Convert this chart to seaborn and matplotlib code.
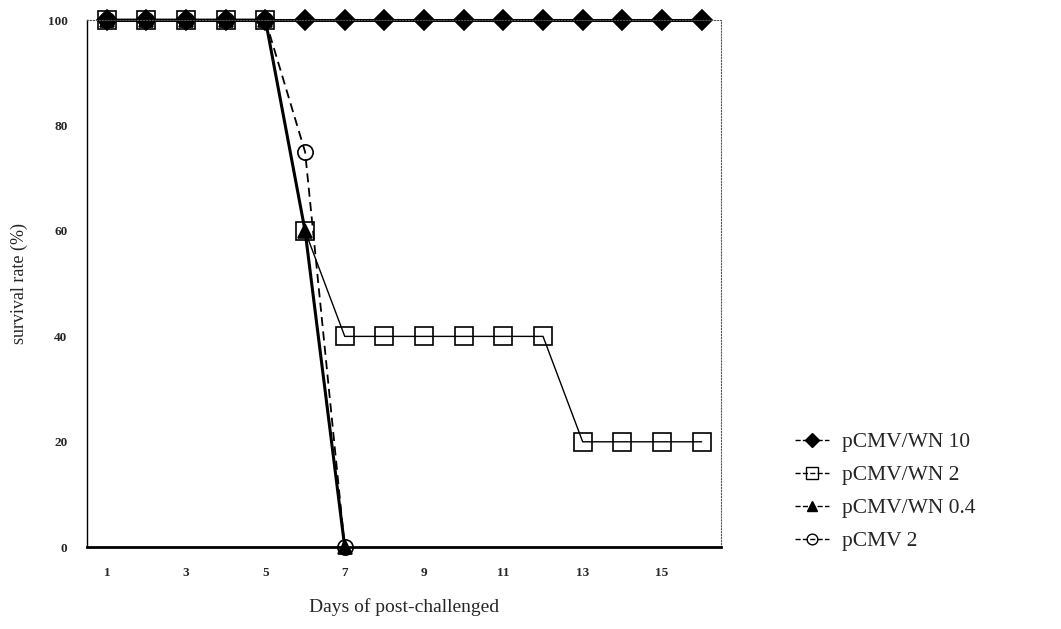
import pandas as pd
import seaborn as sns
import matplotlib.pyplot as plt

# Data
days = list(range(1, 17))
wn10 = [100] * 16
wn2 = [100, 100, 100, 100, 100, 60, 40, 40, 40, 40, 40, 40, 20, 20, 20, 20]
wn04 = [100, 100, 100, 100, 100, 60, 0]
cmv2 = [100, 100, 100, 100, 100, 75, 0]

series_names = ['pCMV/WN 10', 'pCMV/WN 2', 'pCMV/WN 0.4', 'pCMV 2']
series_vals = [wn10, wn2, wn04, cmv2]

rows = []
for name, vals in zip(series_names, series_vals):
    for d, v in zip(days, vals):
        rows.append({'day': d, 'rate': v, 'group': name})
df = pd.DataFrame(rows)

sns.set_style('white')
plt.rcParams['font.family'] = ['Liberation Serif', 'DejaVu Serif']

fig = plt.figure(figsize=(10.61, 6.29), dpi=100)
ax = fig.add_axes([0.082, 0.130, 0.598, 0.838])

# style for each group
styles = {
    'pCMV/WN 10': dict(marker='D', markersize=10, lw=2.2, ls='-', mfc='black', mec='black'),
    'pCMV/WN 2': dict(marker='s', markersize=13, lw=1.0, ls='-', mfc='none', mec='black'),
    'pCMV/WN 0.4': dict(marker='^', markersize=10, lw=2.2, ls='-', mfc='black', mec='black'),
    'pCMV 2': dict(marker='o', markersize=11, lw=1.3, ls=(0, (5, 3)), mfc='none', mec='black'),
}
draw_order = ['pCMV/WN 2', 'pCMV 2', 'pCMV/WN 0.4', 'pCMV/WN 10']
for name in draw_order:
    st = styles[name]
    sns.lineplot(data=df[df['group'] == name], x='day', y='rate', ax=ax,
                 color='black', linewidth=st['lw'], linestyle=st['ls'],
                 marker=st['marker'], markersize=st['markersize'],
                 markerfacecolor=st['mfc'], markeredgecolor=st['mec'],
                 markeredgewidth=1.2, label=name, legend=False, clip_on=False)

ax.set_xlim(0.5, 16.5)
ax.set_ylim(0, 100)
ax.set_xticks([1, 3, 5, 7, 9, 11, 13, 15])
ax.set_yticks([0, 20, 40, 60, 80, 100])
ax.tick_params(axis='both', length=0, labelsize=9.5, pad=14)
for lab in ax.get_xticklabels() + ax.get_yticklabels():
    lab.set_fontweight('bold')

ax.set_xlabel('Days of post-challenged', fontsize=14, labelpad=14)
ax.set_ylabel('survival rate (%)', fontsize=13, labelpad=14)

for s in ['top', 'right']:
    ax.spines[s].set_linestyle(':')
    ax.spines[s].set_linewidth(0.8)
    ax.spines[s].set_color('#555555')
ax.spines['left'].set_linewidth(1.0)
ax.spines['left'].set_color('black')
ax.spines['bottom'].set_linewidth(2.0)
ax.spines['bottom'].set_color('black')

handles = []
for name in series_names:
    st = styles[name]
    h, = ax.plot([], [], color='black', linewidth=1.0, linestyle='--',
                 marker=st['marker'], markersize=st['markersize'] * 0.7,
                 markerfacecolor=st['mfc'], markeredgecolor=st['mec'])
    handles.append(h)
ax.legend(handles, series_names, loc='center left', bbox_to_anchor=(1.085, 0.105),
          frameon=False, fontsize=15.5, handlelength=1.6, handletextpad=0.6,
          labelspacing=0.6)

fig.savefig('out.png', dpi=100, facecolor='white')
